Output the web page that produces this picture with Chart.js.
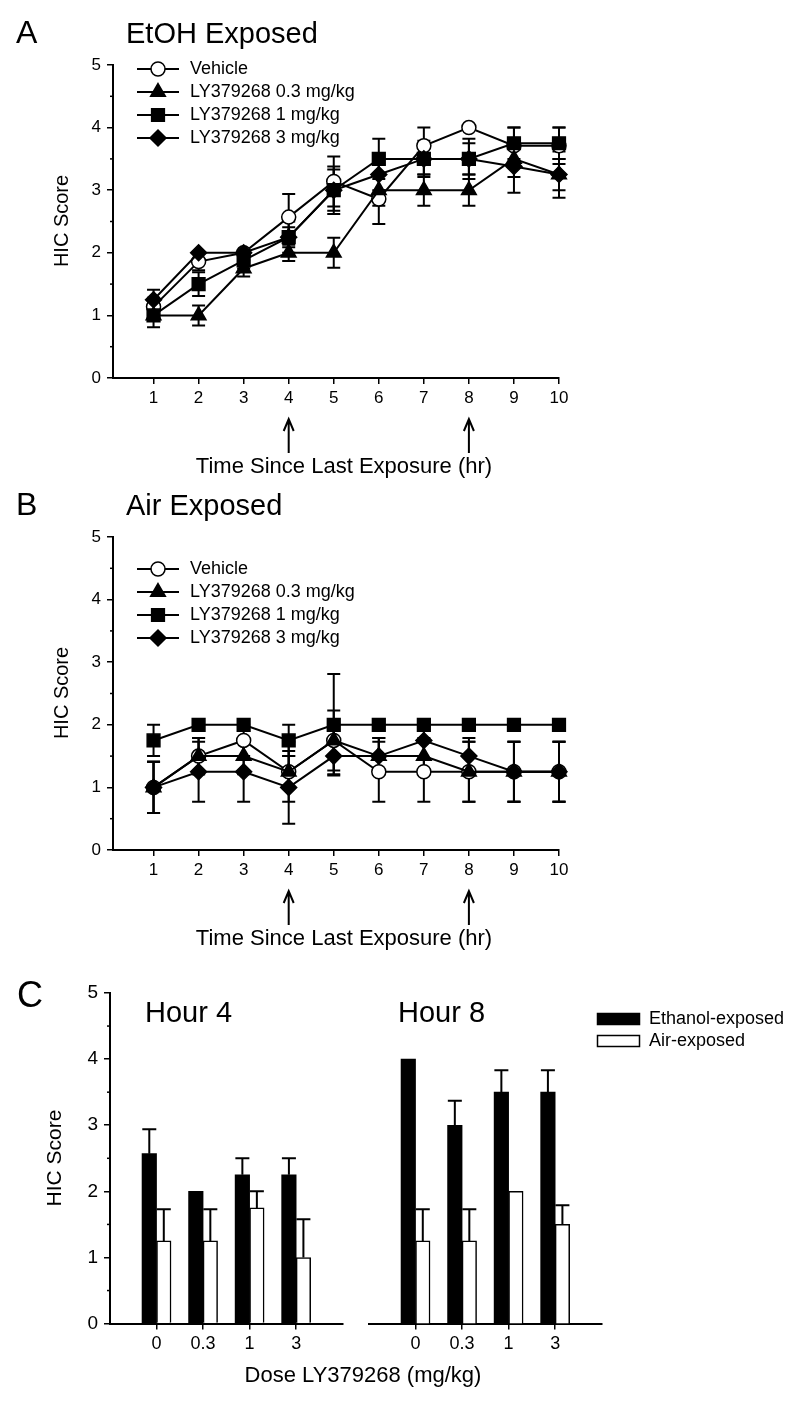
<!DOCTYPE html>
<html>
<head>
<meta charset="utf-8">
<script src="https://cdn.jsdelivr.net/npm/chart.js@4.4.1/dist/chart.umd.min.js"></script>
<style>
  body{margin:0;background:#fff;}
  #wrap{position:relative;width:800px;height:1404px;overflow:hidden;}
  canvas{position:absolute;}
</style>
</head>
<body>
<div id="wrap">
  <canvas id="cA" width="620" height="480" style="left:0;top:0"></canvas>
  <canvas id="cB" width="620" height="480" style="left:0;top:470px"></canvas>
  <canvas id="cC1" width="800" height="464" style="left:0;top:940px"></canvas>
  <canvas id="cC2" width="440" height="464" style="left:360px;top:940px"></canvas>
</div>
<script>
// ---- data ----
const hours = [1,2,3,4,5,6,7,8,9,10];
const arrowHours = [4, 8];
const scoreTicks = [0,1,2,3,4,5];
const seriesNames = ['Vehicle','LY379268 0.3 mg/kg','LY379268 1 mg/kg','LY379268 3 mg/kg'];

// A: EtOH exposed (mean, sem)
const etohVehicle = [1.14,1.86,2.0,2.57,3.14,2.86,3.71,4.0,3.71,3.71];
const etohVehicleErr = [0.14,0.14,0,0.37,0.4,0.4,0.29,0,0.29,0.29];
const etohLow = [1,1,1.75,2,2,3,3,3,3.5,3.25];
const etohLowErr = [0,0.16,0.13,0.13,0.24,0.25,0.25,0.25,0.29,0.25];
const etohMid = [1,1.5,1.88,2.25,3,3.5,3.5,3.5,3.75,3.75];
const etohMidErr = [0.19,0.19,0.13,0.25,0.38,0.32,0.29,0.32,0.25,0.25];
const etohHigh = [1.25,2,2,2.25,3,3.25,3.5,3.5,3.38,3.25];
const etohHighErr = [0.16,0,0,0.16,0.33,0.25,0.25,0.25,0.42,0.37];

// B: air exposed
const airVehicle = [1,1.5,1.75,1.25,1.75,1.25,1.25,1.25,1.25,1.25];
const airVehicleErr = [0.41,0.29,0.25,0.25,0.48,0.48,0.48,0.48,0.48,0.48];
const airLow = [1,1.5,1.5,1.25,1.75,1.5,1.5,1.25,1.25,1.25];
const airLowErr = [0.41,0.29,0.29,0.48,0.25,0.29,0.29,0.48,0.48,0.48];
const airMid = [1.75,2,2,1.75,2,2,2,2,2,2];
const airMidErr = [0.25,0,0,0.25,0.81,0,0,0,0,0];
const airHigh = [1,1.25,1.25,1.0,1.5,1.5,1.75,1.5,1.25,1.25];
const airHighErr = [0.41,0.48,0.48,0.58,0.29,0.29,0.29,0.29,0.48,0.48];

// C: dose groups at hour 4 / hour 8
const doses = ['0','0.3','1','3'];
const h4Eth = [2.57,2.0,2.25,2.25];
const h4EthErr = [0.37,0,0.25,0.25];
const h4Air = [1.25,1.25,1.75,1.0];
const h4AirErr = [0.48,0.48,0.25,0.58];
const h8Eth = [4.0,3.0,3.5,3.5];
const h8EthErr = [0,0.37,0.33,0.33];
const h8Air = [1.25,1.25,2.0,1.5];
const h8AirErr = [0.48,0.48,0,0.29];

const FONT = "'Liberation Sans', Arial, Helvetica, sans-serif";

// ---- plugins ----
function drawErrors(chart, o){
  const ctx = chart.ctx, ys = chart.scales.y;
  ctx.save();
  ctx.strokeStyle = '#000'; ctx.lineWidth = o.lineWidth || 2;
  chart.data.datasets.forEach((ds, di)=>{
    if(!ds.errors) return;
    const meta = chart.getDatasetMeta(di);
    meta.data.forEach((el, i)=>{
      const e = ds.errors[i]; if(!e) return;
      const v = ds.data[i].y;
      const x = el.x, yt = ys.getPixelForValue(v+e);
      const yb = o.upOnly ? ys.getPixelForValue(v) : ys.getPixelForValue(v-e);
      const c = o.cap || 6;
      ctx.beginPath();
      ctx.moveTo(x, yt); ctx.lineTo(x, yb);
      ctx.moveTo(x-c, yt); ctx.lineTo(x+c, yt);
      if(!o.upOnly){ ctx.moveTo(x-c, yb); ctx.lineTo(x+c, yb); }
      ctx.stroke();
    });
  });
  ctx.restore();
}
const errorBars = {
  id:'errorBars',
  beforeDatasetsDraw(chart, args, o){ if(!o.after) drawErrors(chart, o); },
  afterDatasetsDraw(chart, args, o){ if(o.after) drawErrors(chart, o); }
};

const minorTicks = {
  id:'minorTicks',
  afterDraw(chart, args, o){
    if(!o.values) return;
    const ctx = chart.ctx, ys = chart.scales.y, left = chart.chartArea.left;
    ctx.save(); ctx.strokeStyle='#000'; ctx.lineWidth=1.5;
    o.values.forEach(v=>{
      const y = ys.getPixelForValue(v);
      ctx.beginPath(); ctx.moveTo(left-3, y); ctx.lineTo(left, y); ctx.stroke();
    });
    ctx.restore();
  }
};

const lineLegend = {
  id:'lineLegend',
  afterDraw(chart, args, o){
    if(!o.show) return;
    const ctx = chart.ctx, a = chart.chartArea;
    chart.data.datasets.forEach((ds, i)=>{
      const y = a.top + o.top + i*o.step;
      ctx.save();
      ctx.strokeStyle='#000'; ctx.lineWidth=2;
      ctx.beginPath(); ctx.moveTo(o.x0, y); ctx.lineTo(o.x1, y); ctx.stroke();
      ctx.fillStyle = ds.pointBackgroundColor; ctx.lineWidth = ds.pointBorderWidth;
      Chart.helpers.drawPoint(ctx, {pointStyle: ds.pointStyle, radius: ds.pointRadius, borderWidth: ds.pointBorderWidth, rotation:0}, (o.x0+o.x1)/2, y);
      ctx.fillStyle='#000'; ctx.font = o.size+'px '+FONT; ctx.textBaseline='middle'; ctx.textAlign='left';
      ctx.fillText(ds.label, o.tx, y);
      ctx.restore();
    });
  }
};

const arrows = {
  id:'arrows',
  afterDraw(chart, args, o){
    if(!o.at) return;
    const ctx = chart.ctx, xs = chart.scales.x, b = chart.chartArea.bottom;
    ctx.save(); ctx.strokeStyle='#000'; ctx.lineWidth=2;
    o.at.forEach(v=>{
      const x = xs.getPixelForValue(v), y0 = b+o.y0, y1 = b+o.y1;
      ctx.beginPath();
      ctx.moveTo(x, y0); ctx.lineTo(x, y1);
      ctx.moveTo(x-5, y0+12); ctx.lineTo(x, y0); ctx.lineTo(x+5, y0+12);
      ctx.stroke();
    });
    ctx.restore();
  }
};

const labels = {
  id:'labels',
  afterDraw(chart, args, o){
    const ctx = chart.ctx;
    (o.rects||[]).forEach(r=>{
      ctx.save(); ctx.fillStyle=r.fill; ctx.fillRect(r.x, r.y, r.w, r.h);
      ctx.strokeStyle='#000'; ctx.lineWidth=1.5; ctx.strokeRect(r.x, r.y, r.w, r.h); ctx.restore();
    });
    (o.items||[]).forEach(t=>{
      ctx.save();
      ctx.fillStyle='#000'; ctx.font = t.size+'px '+FONT;
      ctx.textAlign = t.align||'left'; ctx.textBaseline = t.base||'alphabetic';
      ctx.translate(t.x, t.y); if(t.rot) ctx.rotate(t.rot);
      ctx.fillText(t.text, 0, 0);
      ctx.restore();
    });
  }
};

Chart.register(errorBars, minorTicks, lineLegend, arrows, labels);

// ---- helpers ----
// order: vehicle drawn first (underneath), 3 mg/kg last (on top)
function lineSet(label, vals, errs, style, fill, r, order){
  return {
    label, order, data: hours.map((h,i)=>({x:h, y:vals[i]})), errors: errs,
    borderColor:'#000', borderWidth:2, backgroundColor:fill,
    pointBackgroundColor:fill, pointBorderColor:'#000', pointBorderWidth:1.5,
    pointStyle:style, pointRadius:r, pointHoverRadius:r, clip:false, tension:0
  };
}
function yScale(show){
  return {
    display: show, min:0, max:5,
    afterBuildTicks: s=>{ s.ticks = scoreTicks.map(v=>({value:v})); },
    afterFit: s=>{ if(show) s.width = 50; },
    border:{color:'#000', width:2},
    grid:{drawOnChartArea:false, color:'#000', lineWidth:1.5, tickLength:6},
    ticks:{color:'#000', font:{family:FONT, size:17}, padding:6}
  };
}
const halfSteps = [0.5,1.5,2.5,3.5,4.5];

function timeChart(id, sets, padTop, title, letter, legendTop){
  return new Chart(document.getElementById(id), {
    type:'line',
    data:{datasets:sets},
    options:{
      responsive:false, animation:false,
      layout:{padding:{left:63, right:61, top:padTop, bottom:480-padTop-313-30}},
      scales:{
        x:{
          type:'linear', min:0.1, max:10,
          afterBuildTicks: s=>{ s.ticks = hours.map(v=>({value:v})); },
          afterFit: s=>{ s.height = 30; },
          border:{color:'#000', width:2},
          grid:{drawOnChartArea:false, color:'#000', lineWidth:1.5, tickLength:6},
          ticks:{color:'#000', font:{family:FONT, size:17}, padding:4, maxRotation:0, autoSkip:false}
        },
        y: yScale(true)
      },
      plugins:{
        legend:{display:false}, tooltip:{enabled:false},
        errorBars:{cap:6.5, lineWidth:2},
        minorTicks:{values:halfSteps},
        lineLegend:{show:true, top:legendTop, step:23, x0:137, x1:179, tx:190, size:18},
        arrows:{at:arrowHours, y0:41, y1:75},
        labels:{items:[
          {text:letter, x:16, y:padTop-22, size:32},
          {text:title, x:126, y:padTop-22, size:29},
          {text:'HIC Score', x:62, y:padTop+156, size:20, rot:-Math.PI/2, align:'center', base:'middle'},
          {text:'Time Since Last Exposure (hr)', x:344, y:padTop+313+89, size:22, align:'center', base:'middle'}
        ]}
      }
    }
  });
}

timeChart('cA', [
  lineSet(seriesNames[0], etohVehicle, etohVehicleErr, 'circle', '#fff', 7, 4),
  lineSet(seriesNames[1], etohLow, etohLowErr, 'triangle', '#000', 8.5, 3),
  lineSet(seriesNames[2], etohMid, etohMidErr, 'rect', '#000', 9, 2),
  lineSet(seriesNames[3], etohHigh, etohHighErr, 'rectRot', '#000', 8, 1)
], 65, 'EtOH Exposed', 'A', 4);

timeChart('cB', [
  lineSet(seriesNames[0], airVehicle, airVehicleErr, 'circle', '#fff', 7, 4),
  lineSet(seriesNames[1], airLow, airLowErr, 'triangle', '#000', 8.5, 3),
  lineSet(seriesNames[2], airMid, airMidErr, 'rect', '#000', 9, 2),
  lineSet(seriesNames[3], airHigh, airHighErr, 'rectRot', '#000', 8, 1)
], 67, 'Air Exposed', 'B', 32);

// ---- panel C ----
function barSets(eth, ethErr, air, airErr){
  return [
    {label:'Ethanol-exposed', data: doses.map((d,i)=>({x:i, y:eth[i]})), errors:ethErr,
     backgroundColor:'#000', borderColor:'#000', borderWidth:0},
    {label:'Air-exposed', data: doses.map((d,i)=>({x:i, y:air[i]})), errors:airErr,
     backgroundColor:'#fff', borderColor:'#000', borderWidth:1.5}
  ];
}
function doseChart(id, sets, showY, padL, padR, texts, rects){
  return new Chart(document.getElementById(id), {
    type:'bar',
    data:{datasets:sets},
    options:{
      responsive:false, animation:false,
      layout:{padding:{left:padL, right:padR, top:53, bottom:464-53-330.6-30}},
      datasets:{bar:{barThickness:14.5, grouped:true}},
      scales:{
        x:{
          type:'linear', min:-1, max:4, offset:false,
          afterBuildTicks: s=>{ s.ticks = doses.map((d,i)=>({value:i})); },
          afterFit: s=>{ s.height = 30; },
          border:{color:'#000', width:2},
          grid:{drawOnChartArea:false, offset:false, color:'#000', lineWidth:1.5, tickLength:6},
          ticks:{color:'#000', font:{family:FONT, size:18}, padding:4, maxRotation:0, autoSkip:false,
                 callback: v=>doses[v]}
        },
        y: Object.assign(yScale(showY), {ticks:{color:'#000', font:{family:FONT, size:19}, padding:6}})
      },
      plugins:{
        legend:{display:false}, tooltip:{enabled:false},
        errorBars:{after:true, upOnly:true, cap:7, lineWidth:2},
        minorTicks: showY ? {values:halfSteps} : {},
        lineLegend:{show:false},
        arrows:{},
        labels:{items:texts, rects:rects||[]}
      }
    }
  });
}

doseChart('cC1', barSets(h4Eth, h4EthErr, h4Air, h4AirErr), true, 60, 800-342.7, [
  {text:'C', x:17, y:67, size:36},
  {text:'Hour 4', x:145, y:82, size:29},
  {text:'HIC Score', x:55, y:218, size:21, rot:-Math.PI/2, align:'center', base:'middle'},
  {text:'Dose LY379268 (mg/kg)', x:363, y:436, size:22, align:'center', base:'middle'}
]);

doseChart('cC2', barSets(h8Eth, h8EthErr, h8Air, h8AirErr), false, 9, 440-241.7, [
  {text:'Hour 8', x:38, y:82, size:29},
  {text:'Ethanol-exposed', x:289, y:79, size:18, base:'middle'},
  {text:'Air-exposed', x:289, y:101, size:18, base:'middle'}
], [
  {x:237.5, y:73.5, w:42, h:11, fill:'#000'},
  {x:237.5, y:95.5, w:42, h:11, fill:'#fff'}
]);
</script>
</body>
</html>
